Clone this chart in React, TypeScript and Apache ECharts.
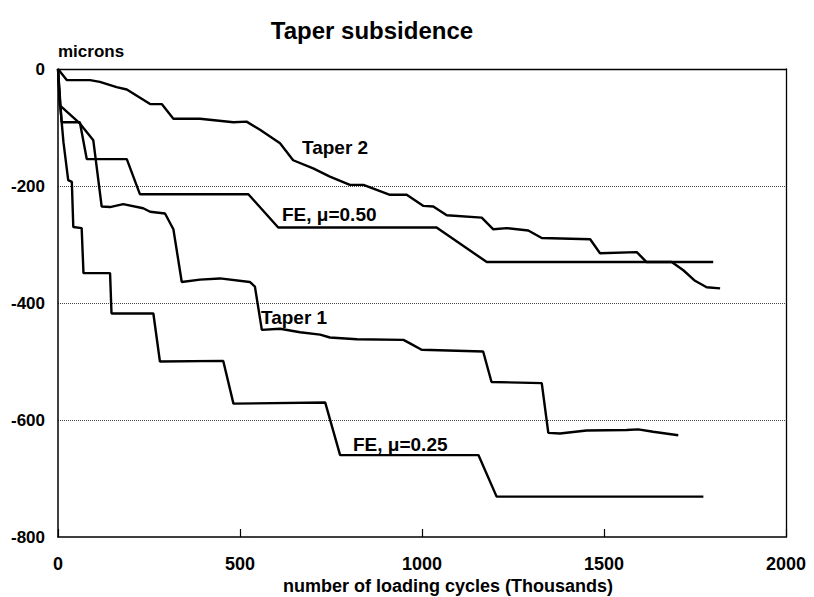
import React, { useEffect, useRef } from "react";
import * as echarts from "echarts";

const xTicks = [0, 500, 1000, 1500, 2000];
const yTicks = [-800, -600, -400, -200, 0];

const taper2: [number, number][] = [
  [0, 0], [24, -19], [88, -19], [115, -22], [161, -31], [189, -35], [253, -60], [285, -60],
  [317, -85], [390, -85], [482, -91], [518, -90], [555, -104], [610, -127], [646, -156],
  [701, -170], [747, -184], [802, -198], [839, -198], [912, -215], [958, -215], [1004, -234],
  [1031, -235], [1068, -250], [1164, -254], [1196, -274], [1233, -272], [1292, -276],
  [1329, -289], [1462, -291], [1489, -315], [1590, -313], [1617, -330], [1686, -330],
  [1718, -344], [1750, -362], [1782, -373], [1819, -375],
];

const fe050: [number, number][] = [
  [0, 0], [10, -91], [60, -91], [79, -154], [189, -154], [225, -214], [523, -214],
  [605, -271], [1040, -271], [1178, -330], [1800, -330],
];

const taper1: [number, number][] = [
  [0, 0], [5, -62], [60, -93], [97, -122], [120, -235], [143, -236], [179, -231], [234, -238],
  [253, -244], [294, -247], [317, -274], [340, -364], [390, -360], [445, -358], [527, -364],
  [541, -372], [560, -446], [610, -444], [665, -450], [720, -454], [747, -459], [821, -462],
  [949, -463], [967, -469], [999, -480], [1168, -483], [1191, -535], [1329, -537],
  [1347, -622], [1379, -623], [1452, -618], [1562, -617], [1594, -616], [1635, -620],
  [1704, -626],
];

const fe025: [number, number][] = [
  [0, 0], [6, -62], [15, -125], [28, -190], [38, -193], [42, -270], [65, -272], [70, -349],
  [143, -349], [147, -418], [262, -418], [280, -500], [454, -499], [482, -572], [734, -570],
  [775, -660], [1155, -660], [1205, -731], [1773, -731],
];

const FONT = "'Liberation Sans', Arial, Helvetica, sans-serif";

export default function App() {
  const ref = useRef<HTMLDivElement>(null);
  useEffect(() => {
    document.body.style.margin = "0";
    if (!ref.current) return;
    const chart = echarts.init(ref.current, undefined, { renderer: "svg" });
    const lineSeries = (name: string, data: [number, number][]) => ({
      name,
      type: "line",
      data,
      showSymbol: false,
      symbol: "none",
      lineStyle: { color: "#000", width: 2.4 },
      z: 3,
    });
    const label = (text: string, x: number, y: number) => ({
      type: "text",
      x,
      y,
      style: {
        text,
        fill: "#000",
        font: `bold 19px ${FONT}`,
        textVerticalAlign: "middle",
      },
      z: 10,
    });
    const frameAxis = {
      type: "value",
      axisLine: { show: true, onZero: false, lineStyle: { color: "#000", width: 1.3 } },
      axisTick: { show: false },
      axisLabel: { show: false },
      splitLine: { show: false },
    };
    chart.setOption({
      animation: false,
      backgroundColor: "#fff",
      grid: {
        left: 58,
        top: 69,
        right: 28,
        bottom: 60,
        show: false,
      },
      xAxis: [
        {
          type: "value",
          min: xTicks[0],
          max: xTicks[xTicks.length - 1],
          interval: 500,
          axisLine: { show: true, onZero: false, lineStyle: { color: "#000", width: 1.5 } },
          axisTick: { show: true, inside: true, length: 8, lineStyle: { color: "#000", width: 1.2 } },
          axisLabel: {
            color: "#000",
            fontFamily: FONT,
            fontWeight: "bold",
            fontSize: 18,
            margin: 18,
            formatter: (v: number) => String(v),
          },
          splitLine: { show: false },
        },
        { ...frameAxis, position: "top", min: 0, max: 2000 },
      ],
      yAxis: [
        {
          type: "value",
          min: yTicks[0],
          max: yTicks[yTicks.length - 1],
          interval: 200,
          axisLine: { show: true, onZero: false, lineStyle: { color: "#000", width: 1.5 } },
          axisTick: { show: false },
          axisLabel: {
            color: "#000",
            fontFamily: FONT,
            fontWeight: "bold",
            fontSize: 17,
            margin: 13,
            formatter: (v: number) => String(v),
          },
          splitLine: {
            show: true,
            showMinLine: false,
            showMaxLine: false,
            lineStyle: { color: "#444", type: "dotted", width: 1 },
          },
        },
        { ...frameAxis, position: "right", min: -800, max: 0 },
      ],
      series: [
        lineSeries("Taper 2", taper2),
        lineSeries("FE, μ=0.50", fe050),
        lineSeries("Taper 1", taper1),
        lineSeries("FE, μ=0.25", fe025),
      ],
      graphic: [
        {
          type: "text",
          x: 372,
          y: 30,
          style: {
            text: "Taper subsidence",
            fill: "#000",
            font: `bold 24px ${FONT}`,
            textAlign: "center",
            textVerticalAlign: "middle",
          },
        },
        {
          type: "text",
          x: 58,
          y: 51,
          style: {
            text: "microns",
            fill: "#000",
            font: `bold 17px ${FONT}`,
            textVerticalAlign: "middle",
          },
        },
        {
          type: "text",
          x: 448,
          y: 586,
          style: {
            text: "number of loading cycles (Thousands)",
            fill: "#000",
            font: `bold 18px ${FONT}`,
            textAlign: "center",
            textVerticalAlign: "middle",
          },
        },
        label("Taper 2", 302, 147),
        label("FE, μ=0.50", 282, 214),
        label("Taper 1", 261, 317),
        label("FE, μ=0.25", 353, 444),
      ],
    });
    return () => chart.dispose();
  }, []);
  return <div ref={ref} style={{ width: 814, height: 597 }} />;
}
